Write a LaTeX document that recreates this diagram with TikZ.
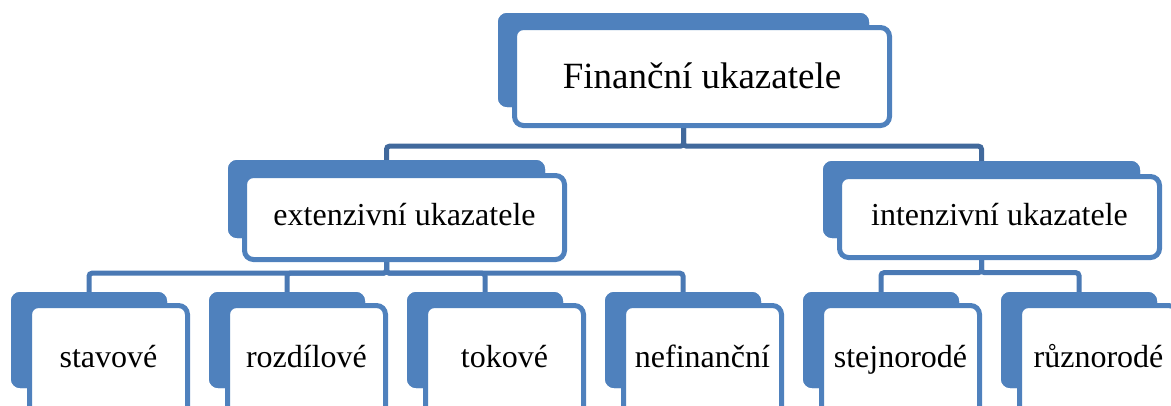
\documentclass[tikz,border=0pt]{standalone}
\usepackage{fontspec}
\setmainfont{Liberation Serif}
\definecolor{accent}{HTML}{4F81BD}
\definecolor{lineA}{HTML}{41699C}
\definecolor{lineB}{HTML}{4A79B4}
\begin{document}
\begin{tikzpicture}[x=1pt,y=-1pt,
  backbox/.style={rectangle, rounded corners=9pt, fill=accent, draw=none, inner sep=0pt},
  frontbox/.style={rectangle, rounded corners=9pt, fill=white, draw=accent, line width=5pt, inner sep=0pt, align=center},
  bigtext/.style={font=\fontsize{37}{40}\selectfont},
  midtext/.style={font=\fontsize{32}{36}\selectfont},
  connA/.style={draw=lineA, line width=5pt, rounded corners=3pt},
  connB/.style={draw=lineB, line width=5pt, rounded corners=3pt},
  bbox/.style={backbox, minimum width=156pt, minimum height=96pt},
  fbox/.style={frontbox, midtext, minimum width=158pt, minimum height=123pt, text height=12pt, text depth=12pt}
]
\useasboundingbox (0,0) rectangle (1171,405);
\clip (0,0) rectangle (1171,405);

% back boxes (coordinates for connectors)
\node[backbox, minimum width=371pt, minimum height=94pt] (topB) at (683.5,60) {};
\node[backbox, minimum width=317pt, minimum height=78pt] (extB) at (386.5,199) {};
\node[backbox, minimum width=317pt, minimum height=77pt] (intB) at (981.5,199.5) {};
\node[bbox] (b1B) at (89,340) {};
\node[bbox] (b2B) at (287,340) {};
\node[bbox] (b3B) at (485,340) {};
\node[bbox] (b4B) at (683,340) {};
\node[bbox] (b5B) at (881,340) {};
\node[bbox] (b6B) at (1079,340) {};

% connectors
\draw[connA] (topB.south) -- ++(0,39) -| (extB.north);
\draw[connA] (topB.south) -- ++(0,39) -| (intB.north);
\draw[connB] (extB.south) -- ++(0,35) -| (b1B.north);
\draw[connB] (extB.south) -- ++(0,35) -| (b2B.north);
\draw[connB] (extB.south) -- ++(0,35) -| (b3B.north);
\draw[connB] (extB.south) -- ++(0,35) -| (b4B.north);
\draw[connB] (intB.south) -- ++(0,34.5) -| (b5B.north);
\draw[connB] (intB.south) -- ++(0,34.5) -| (b6B.north);

% redraw back boxes over connector ends
\node[backbox, minimum width=371pt, minimum height=94pt] at (topB) {};
\node[backbox, minimum width=317pt, minimum height=78pt] at (extB) {};
\node[backbox, minimum width=317pt, minimum height=77pt] at (intB) {};
\foreach \n in {b1B,b2B,b3B,b4B,b5B,b6B} \node[bbox] at (\n) {};

% front boxes with text
\node[frontbox, bigtext, minimum width=375pt, minimum height=98pt, text height=26pt, text depth=3pt] (top) at (702,76.5) {Finanční ukazatele};
\node[frontbox, midtext, minimum width=320pt, minimum height=84pt, text height=20pt, text depth=5pt] (ext) at (404.5,217.5) {extenzivní ukazatele};
\node[frontbox, midtext, minimum width=320pt, minimum height=81pt, text height=21pt, text depth=5pt] (int) at (999.5,217) {intenzivní ukazatele};
\node[fbox] (b1) at (108.5,367) {stavové};
\node[fbox] (b2) at (306.5,367) {rozdílové};
\node[fbox] (b3) at (504.5,367) {tokové};
\node[fbox] (b4) at (702.5,367) {nefinanční};
\node[fbox] (b5) at (900.5,367) {stejnorodé};
\node[fbox] (b6) at (1098.5,367) {různorodé};
\end{tikzpicture}
\end{document}
